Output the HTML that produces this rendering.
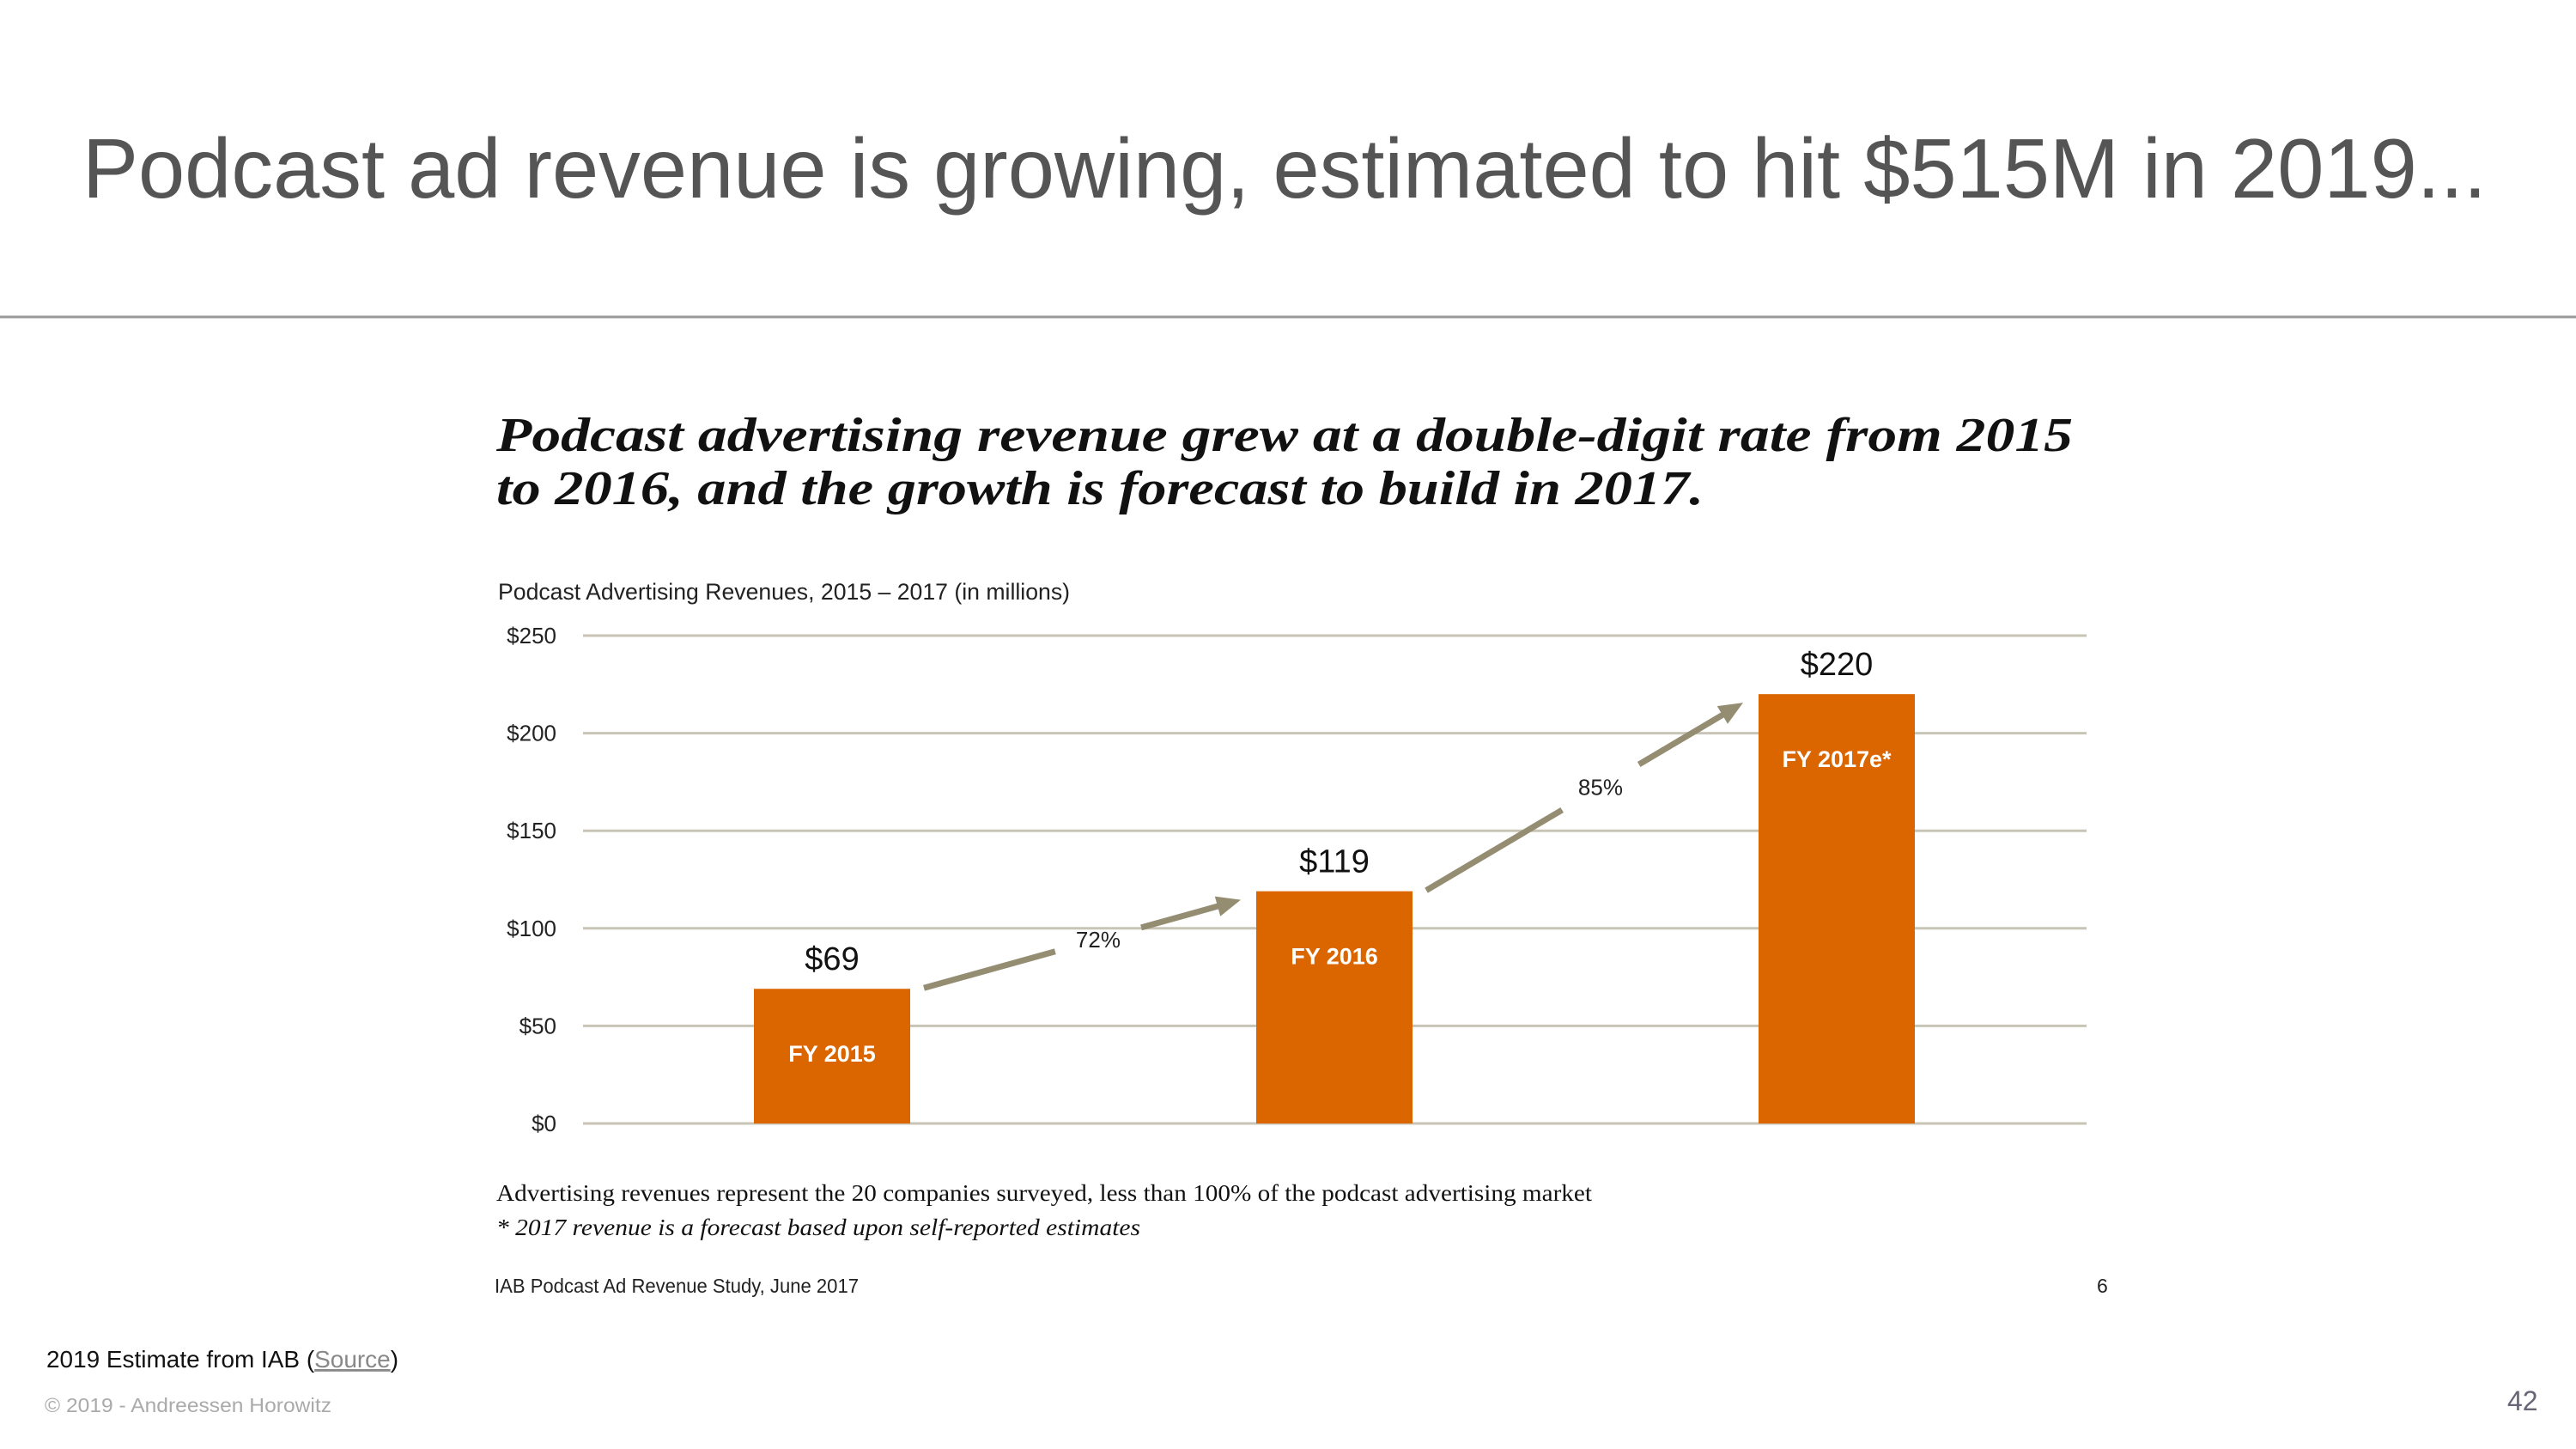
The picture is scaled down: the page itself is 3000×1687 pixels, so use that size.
<!DOCTYPE html>
<html><head><meta charset="utf-8"><style>
html,body{margin:0;padding:0;background:#fff;}
svg{display:block;}
</style></head><body>
<svg width="3000" height="1687" viewBox="0 0 3000 1687" xmlns="http://www.w3.org/2000/svg" font-family="Liberation Sans, sans-serif">
<text x="96" y="230" font-size="98" fill="#555" textLength="2800" lengthAdjust="spacingAndGlyphs">Podcast ad revenue is growing, estimated to hit $515M in 2019...</text>
<line x1="0" y1="369" x2="3000" y2="369" stroke="#999" stroke-width="3"/>
<g font-family="Liberation Serif, serif" font-weight="bold" font-style="italic" fill="#111" font-size="56">
<text x="578" y="525" textLength="1836" lengthAdjust="spacingAndGlyphs">Podcast advertising revenue grew at a double-digit rate from 2015</text>
<text x="578" y="587" textLength="1406" lengthAdjust="spacingAndGlyphs">to 2016, and the growth is forecast to build in 2017.</text>
</g>
<text x="580" y="698" font-size="27" fill="#222" textLength="666" lengthAdjust="spacingAndGlyphs">Podcast Advertising Revenues, 2015 – 2017 (in millions)</text>
<g id="chart"></g>
<g font-family="Liberation Serif, serif" fill="#111" font-size="27">
<text x="578" y="1398" textLength="1276" lengthAdjust="spacingAndGlyphs">Advertising revenues represent the 20 companies surveyed, less than 100% of the podcast advertising market</text>
<text x="578" y="1438" font-style="italic" textLength="750" lengthAdjust="spacingAndGlyphs">* 2017 revenue is a forecast based upon self-reported estimates</text>
</g>
<text x="576" y="1505" font-size="23" fill="#222" textLength="424" lengthAdjust="spacingAndGlyphs">IAB Podcast Ad Revenue Study, June 2017</text>
<text x="2442" y="1505" font-size="23" fill="#222">6</text>
<text x="54" y="1592" font-size="28" fill="#111" textLength="410" lengthAdjust="spacingAndGlyphs">2019 Estimate from IAB (<tspan fill="#888" text-decoration="underline">Source</tspan>)</text>
<text x="52" y="1644" font-size="23" fill="#aaa" textLength="334" lengthAdjust="spacingAndGlyphs">© 2019 - Andreessen Horowitz</text>
<text x="2920" y="1642" font-size="32" fill="#667">42</text>
</svg>
<script>
const categories = ["FY 2015", "FY 2016", "FY 2017e*"];
const values = [69, 119, 220];
const valueLabels = ["$69", "$119", "$220"];
const growthLabels = ["72%", "85%"];
const yTicks = [0, 50, 100, 150, 200, 250];
const yTickLabels = ["$0", "$50", "$100", "$150", "$200", "$250"];

const NS = "http://www.w3.org/2000/svg";
const g = document.getElementById("chart");
const x0 = 679, x1 = 2430, yBase = 1308, yTop = 740, yMax = 250;
const yScale = v => yBase - (v / yMax) * (yBase - yTop);
const bandW = 585, barW = 182, firstCenter = 969;
const xCenter = i => firstCenter + i * bandW;
function mk(tag, attrs) { const e = document.createElementNS(NS, tag); for (const k in attrs) e.setAttribute(k, attrs[k]); g.appendChild(e); return e; }

yTicks.forEach((t, i) => {
  const ln = mk("line", {x1: x0, x2: x1, y1: yScale(t), y2: yScale(t), stroke: "#c9c5b6", "stroke-width": 3});
  
  
  const tx = mk("text", {x: 648, y: yScale(t) + 9, "font-size": 26, "text-anchor": "end", fill: "#222"});
  
  
  tx.textContent = yTickLabels[i];
});

values.forEach((v, i) => {
  const cx = xCenter(i);
  const r = mk("rect", {x: cx - barW / 2, y: yScale(v), width: barW, height: yBase - yScale(v), fill: "#db6600"});
  
  
  const vl = mk("text", {x: cx, y: yScale(v) - 22, "font-size": 38, "text-anchor": "middle", fill: "#111"});
  
  
  vl.textContent = valueLabels[i];
  const cl = mk("text", {x: cx, y: yScale(v) + 85, "font-size": 27, "font-weight": "bold", "text-anchor": "middle", fill: "#fff"});
  
  
  cl.textContent = categories[i];
});

growthLabels.forEach((lab, i) => {
  const sx = xCenter(i) + barW / 2 + 16, sy = yScale(values[i]) - 1;
  const ex = xCenter(i + 1) - barW / 2 - 18, ey = yScale(values[i + 1]) + 10;
  const mx = sx + (ex - sx) * 0.55, my = sy + (ey - sy) * 0.55;
  const dx = ex - sx, dy = ey - sy, L = Math.hypot(dx, dy), ux = dx / L, uy = dy / L;
  const gap = 52;
  const a1 = mk("line", {x1: sx, y1: sy, x2: mx - ux * gap, y2: my - uy * gap, stroke: "#958d72", "stroke-width": 7});
  
  
  const hx = ex - ux * 22, hy = ey - uy * 22;
  const a2 = mk("line", {x1: mx + ux * gap, y1: my + uy * gap, x2: hx, y2: hy, stroke: "#958d72", "stroke-width": 7});
  
  
  const px = -uy, py = ux;
  const head = mk("polygon", {points: `${ex},${ey} ${hx - ux * 6 + px * 12},${hy - uy * 6 + py * 12} ${hx - ux * 6 - px * 12},${hy - uy * 6 - py * 12}`, fill: "#958d72"});
  
  
  const t = mk("text", {x: mx, y: my + 9, "font-size": 26, "text-anchor": "middle", fill: "#222"});
  
  
  t.textContent = lab;
});
</script>
</body></html>
